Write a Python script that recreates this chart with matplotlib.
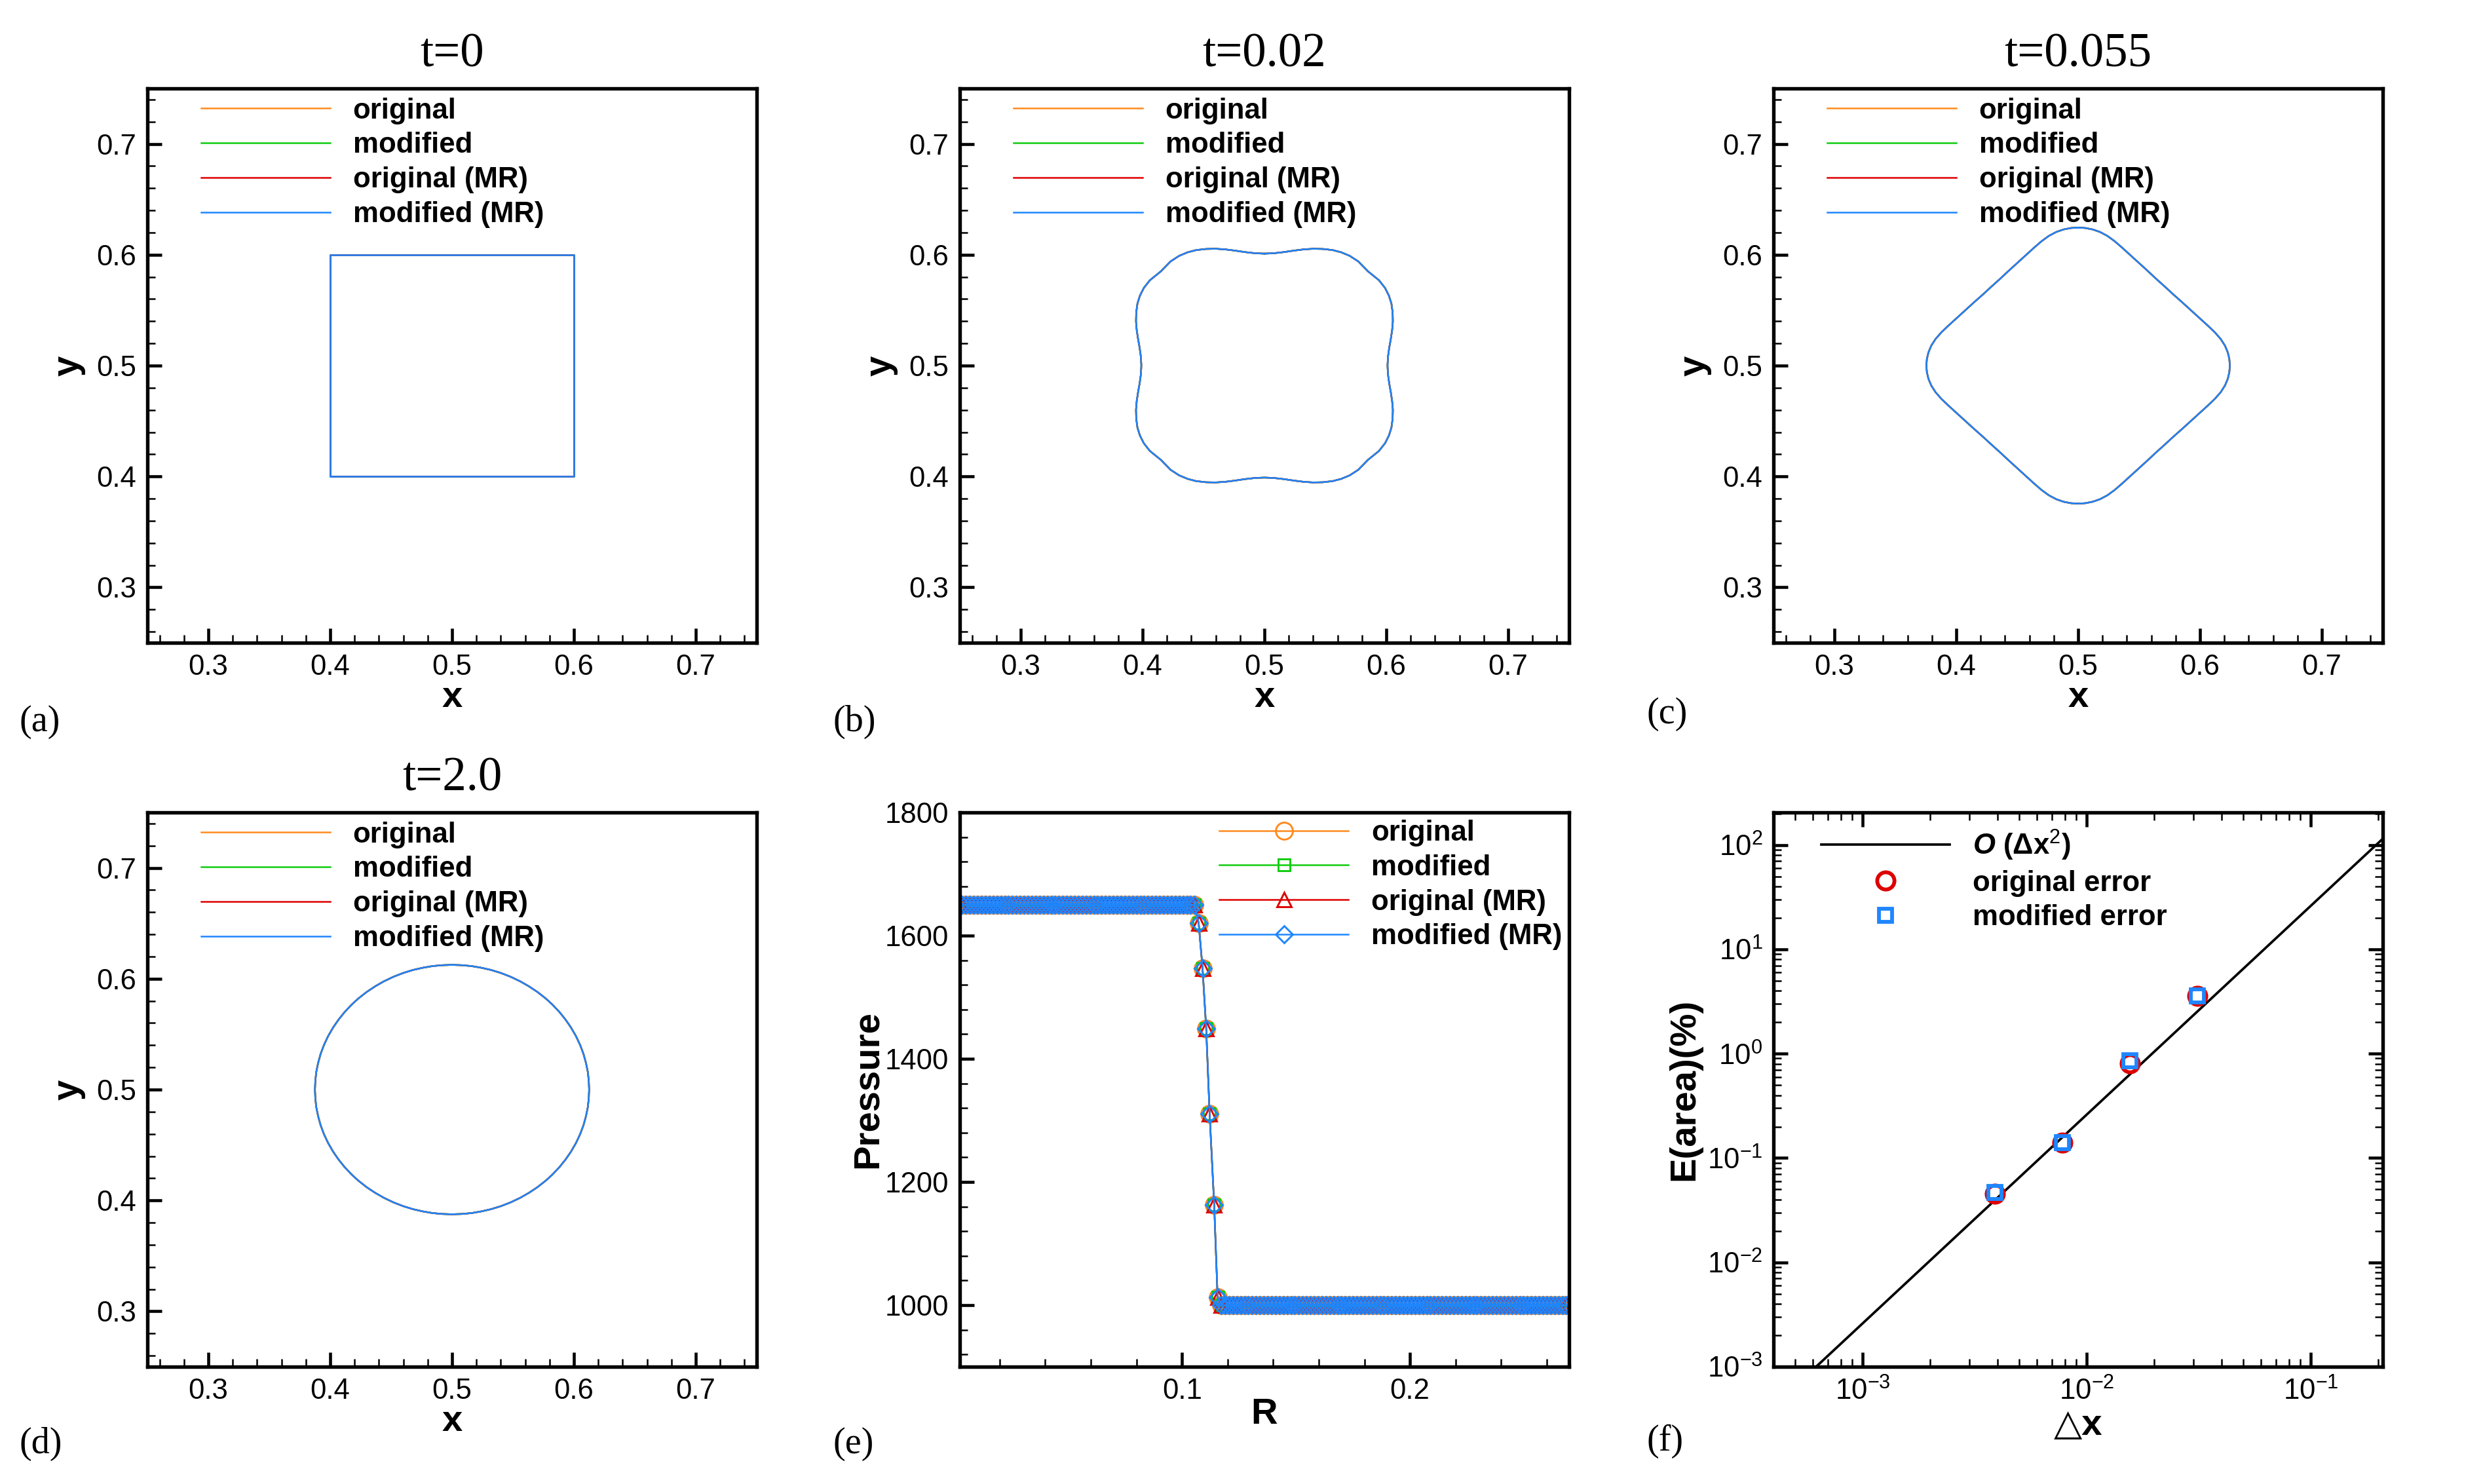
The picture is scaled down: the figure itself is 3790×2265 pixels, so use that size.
import numpy as np
import matplotlib
matplotlib.use("Agg")
import matplotlib.pyplot as plt
from matplotlib.ticker import MultipleLocator, LogLocator, FixedLocator, FuncFormatter, NullFormatter

plt.rcParams["font.family"] = ["Liberation Sans", "DejaVu Sans"]
plt.rcParams["mathtext.fontset"] = "custom"
plt.rcParams["mathtext.rm"] = "Liberation Sans"
plt.rcParams["mathtext.it"] = "Liberation Sans:italic:bold"
plt.rcParams["mathtext.bf"] = "Liberation Sans:bold"
plt.rcParams["axes.linewidth"] = 1.3

# ---------------- data ----------------
SERIES = ["original", "modified", "original (MR)", "modified (MR)"]
COLORS = ["#ff8a1f", "#10cc10", "#dd0000", "#1e86ff"]

TIMES = ["t=0", "t=0.02", "t=0.055", "t=2.0"]

# t=0 : initial square
SQUARE_X = [0.4, 0.6, 0.6, 0.4, 0.4]
SQUARE_Y = [0.4, 0.4, 0.6, 0.6, 0.4]

# one octant of each interface (offsets from the centre, top -> diagonal)
CENTER = (0.5, 0.5)
T002_DX = [0.000, 0.008, 0.016, 0.024, 0.032, 0.040, 0.048, 0.056, 0.063, 0.070, 0.077, 0.085]
T002_DY = [0.1010, 0.1014, 0.1024, 0.1037, 0.1048, 0.1054, 0.1052, 0.1042, 0.1022, 0.0990, 0.0940, 0.0850]

T0055_DX = [0.000, 0.006, 0.012, 0.018, 0.024, 0.030, 0.036, 0.043, 0.050, 0.057, 0.064, 0.0712]
T0055_DY = [0.1245, 0.1241, 0.1228, 0.1205, 0.1170, 0.1122, 0.1065, 0.0995, 0.0925, 0.0855, 0.0783, 0.0712]

T2_DX = [0.000, 0.008, 0.016, 0.024, 0.032, 0.040, 0.048, 0.056, 0.063, 0.070, 0.0765, 0.0795]
T2_DY = [0.1125, 0.1122, 0.1114, 0.1099, 0.1079, 0.1052, 0.1018, 0.0976, 0.0932, 0.0881, 0.0825, 0.0796]

# (e) pressure along R
R_LEFT = np.arange(0.0035, 0.1065, 0.0017)
P_LEFT = 1650.0
R_JUMP = [0.1073, 0.1090, 0.1106, 0.1121, 0.1141, 0.1156]
P_JUMP = [1620, 1547, 1449, 1311, 1163, 1013]
R_RIGHT = np.arange(0.1172, 0.2700, 0.0017)
P_RIGHT = 1000.0
P_MARKERS = ["o", "s", "^", "D"]
P_MSIZE = [6.2, 4.4, 5.5, 4.3]

# (f) convergence
DX = [0.0039, 0.0078, 0.0156, 0.0313]
ERR_ORIG = [0.0454, 0.140, 0.807, 3.58]
ERR_MOD = [0.0465, 0.140, 0.853, 3.58]
ORDER_COEF = 2600.0
DX_LINE = np.array([4e-4, 0.21])


def full_contour(dx, dy):
    dx = np.asarray(dx)
    dy = np.asarray(dy)
    qx = np.concatenate([dx, dy[-2::-1]])
    qy = np.concatenate([dy, dx[-2::-1]])
    x = np.concatenate([qx, qx[-2::-1], -qx[1:], -qx[-2::-1]])
    y = np.concatenate([qy, -qy[-2::-1], -qy[1:], qy[-2::-1]])
    return CENTER[0] + x, CENTER[1] + y


SHAPES = [
    (np.array(SQUARE_X), np.array(SQUARE_Y)),
    full_contour(T002_DX, T002_DY),
    full_contour(T0055_DX, T0055_DY),
    full_contour(T2_DX, T2_DY),
]

TICK_FS = 10.5
LABEL_FS = 13.5
LEG_FS = 10.5

W, H = 3790, 2265
fig = plt.figure(figsize=(W / 300, H / 300), dpi=300)


def add_axes(left, top, width=930, height=846):
    return fig.add_axes([left / W, 1 - (top + height) / H, width / W, height / H])


def style_ticks(ax, all_sides=False):
    ax.tick_params(which="both", direction="in", labelsize=TICK_FS,
                   top=all_sides, right=all_sides)
    ax.tick_params(which="major", length=5.2, width=1.1, pad=4)
    ax.tick_params(which="minor", length=2.8, width=0.6)


def legend(ax, x, y):
    return ax.legend(loc="upper left", bbox_to_anchor=(x, y), frameon=False,
                     borderpad=0, borderaxespad=0, handlelength=4.5,
                     handletextpad=0.8, labelspacing=0.27,
                     prop={"family": ["Liberation Sans", "DejaVu Sans"],
                           "weight": "bold", "size": LEG_FS})


LEFTS = [225, 1465, 2707]
TOPS = [135, 1240]
positions = [(LEFTS[0], TOPS[0]), (LEFTS[1], TOPS[0]), (LEFTS[2], TOPS[0]), (LEFTS[0], TOPS[1])]

for i, (sx, sy) in enumerate(SHAPES):
    ax = add_axes(*positions[i])
    for name, col in zip(SERIES, COLORS):
        ax.plot(sx, sy, color=col, lw=0.6, label=name)
    ax.set_xlim(0.25, 0.75)
    ax.set_ylim(0.25, 0.75)
    ax.xaxis.set_major_locator(MultipleLocator(0.1))
    ax.yaxis.set_major_locator(MultipleLocator(0.1))
    ax.xaxis.set_minor_locator(MultipleLocator(0.02))
    ax.yaxis.set_minor_locator(MultipleLocator(0.02))
    ax.xaxis.set_major_formatter(FuncFormatter(lambda v, p: f"{v:.1f}"))
    ax.yaxis.set_major_formatter(FuncFormatter(lambda v, p: f"{v:.1f}"))
    style_ticks(ax)
    ax.set_xlabel("x", fontsize=LABEL_FS, fontweight="bold", labelpad=0)
    ax.set_ylabel("y", fontsize=LABEL_FS, fontweight="bold", labelpad=4)
    ax.set_title(TIMES[i], fontsize=17.5, family="Liberation Serif", pad=8)
    legend(ax, 0.088, 0.984)

# (e) pressure
ax = add_axes(LEFTS[1], TOPS[1])
r_all = np.concatenate([R_LEFT, R_JUMP, R_RIGHT])
p_all = np.concatenate([np.full(len(R_LEFT), P_LEFT), P_JUMP, np.full(len(R_RIGHT), P_RIGHT)])
for name, col, mk, ms in zip(SERIES, COLORS, P_MARKERS, P_MSIZE):
    ax.plot(r_all, p_all, color=col, lw=0.6, marker=mk, ms=ms, mfc="none",
            mec=col, mew=0.7, label=name, clip_on=True)
ax.set_xlim(0.0025, 0.2698)
ax.set_ylim(900, 1800)
ax.xaxis.set_major_locator(MultipleLocator(0.1))
ax.xaxis.set_minor_locator(MultipleLocator(0.02))
ax.yaxis.set_major_locator(MultipleLocator(200))
ax.yaxis.set_minor_locator(MultipleLocator(40))
ax.xaxis.set_major_formatter(FuncFormatter(lambda v, p: f"{v:.1f}"))
style_ticks(ax)
ax.set_xlabel("R", fontsize=LABEL_FS, fontweight="bold", labelpad=-2.5)
ax.set_ylabel("Pressure", fontsize=LABEL_FS, fontweight="bold", labelpad=0)
legend(ax, 0.426, 0.987)

# (f) convergence
ax = add_axes(LEFTS[2], TOPS[1])
ax.set_xscale("log")
ax.set_yscale("log")
ax.plot(DX_LINE, ORDER_COEF * DX_LINE ** 2, color="black", lw=0.9, label=r"$O$ (Δx$^{2}$)")
ax.plot(DX, ERR_ORIG, ls="none", marker="o", ms=6.3, mfc="none", mec="#dd0000",
        mew=1.4, label="original error")
ax.plot(DX, ERR_MOD, ls="none", marker="s", ms=4.6, mfc="none", mec="#1e86ff",
        mew=1.4, label="modified error")
ax.set_xlim(4e-4, 0.21)
ax.set_ylim(1e-3, 2.05e2)
ax.xaxis.set_major_locator(FixedLocator([1e-3, 1e-2, 1e-1]))
ax.yaxis.set_major_locator(FixedLocator([1e-3, 1e-2, 1e-1, 1e0, 1e1, 1e2]))
ax.xaxis.set_minor_locator(LogLocator(base=10, subs=np.arange(2, 10), numticks=20))
ax.yaxis.set_minor_locator(LogLocator(base=10, subs=np.arange(2, 10), numticks=20))
fmt = FuncFormatter(lambda v, p: r"$\mathrm{10^{%d}}$" % int(round(np.log10(v))))
ax.xaxis.set_major_formatter(fmt)
ax.yaxis.set_major_formatter(fmt)
ax.xaxis.set_minor_formatter(NullFormatter())
ax.yaxis.set_minor_formatter(NullFormatter())
style_ticks(ax, all_sides=True)
ax.set_xlabel("△x", fontsize=LABEL_FS, fontweight="bold", labelpad=1)
ax.set_ylabel("E(area)(%)", fontsize=LABEL_FS, fontweight="bold", labelpad=2)
legend(ax, 0.078, 0.972)

# panel tags
TAGS = ["(a)", "(b)", "(c)", "(d)", "(e)", "(f)"]
TAG_POS = [(29, 1102), (1271, 1102), (2514, 1090), (29, 2204), (1271, 2204), (2514, 2200)]
for tag, (tx, ty) in zip(TAGS, TAG_POS):
    fig.text(tx / W, 1 - ty / H, tag, family="Liberation Serif", fontsize=13.5,
             ha="left", va="center")

fig.savefig("out.png", dpi=300)
